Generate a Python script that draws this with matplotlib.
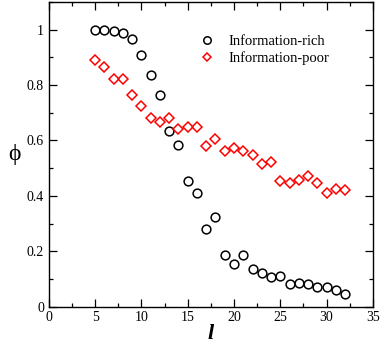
import numpy as np
import matplotlib
matplotlib.use('Agg')
import matplotlib.pyplot as plt
from matplotlib.ticker import MultipleLocator

plt.rcParams['font.family'] = ['Liberation Serif', 'DejaVu Serif']

# data
l_vals = np.arange(5, 33)
phi_rich = [1.0, 0.998, 0.995, 0.99, 0.965, 0.91, 0.835, 0.764, 0.634, 0.583,
            0.454, 0.411, 0.28, 0.324, 0.188, 0.155, 0.186, 0.134, 0.122, 0.108,
            0.111, 0.08, 0.084, 0.082, 0.072, 0.072, 0.06, 0.044]
phi_poor = [0.892, 0.866, 0.821, 0.821, 0.765, 0.725, 0.683, 0.667, 0.68, 0.643,
            0.65, 0.648, 0.58, 0.604, 0.561, 0.573, 0.563, 0.549, 0.515, 0.523,
            0.453, 0.445, 0.459, 0.47, 0.448, 0.412, 0.423, 0.42]

fig = plt.figure(figsize=(3.82, 3.46), dpi=100)
ax = fig.add_axes([0.128, 0.114, 0.848, 0.880])

ax.plot(l_vals, phi_rich, 'o', ms=6.3, mfc='none', mec='black', mew=1.1,
        label='Information-rich')
ax.plot(l_vals, phi_poor, 'D', ms=4.8, mfc='none', mec='red', mew=1.1,
        label='Information-poor')

ax.set_xlim(0, 35)
ax.set_ylim(0, 1.1)
ax.xaxis.set_major_locator(MultipleLocator(5))
ax.xaxis.set_minor_locator(MultipleLocator(2.5))
ax.yaxis.set_minor_locator(MultipleLocator(0.1))
ax.set_yticks([0, 0.2, 0.4, 0.6, 0.8, 1.0])
ax.set_yticklabels(['0', '0.2', '0.4', '0.6', '0.8', '1'])
ax.tick_params(which='both', direction='in', top=True, right=True, labelsize=10)
ax.tick_params(which='major', length=6, width=0.9)
ax.tick_params(which='minor', length=3, width=0.9)
for s in ax.spines.values():
    s.set_linewidth(1.0)

ax.set_xlabel('l', fontsize=16, fontstyle='italic', fontweight='bold', labelpad=0)
ax.set_ylabel('ϕ', fontsize=17, rotation=0, labelpad=9, va='center')

ax.legend(loc='upper right', bbox_to_anchor=(0.888, 0.915), frameon=False,
          fontsize=10.5, handletextpad=0.5, labelspacing=0.2, borderpad=0,
          markerscale=0.85)

fig.savefig('out.png', dpi=100)
